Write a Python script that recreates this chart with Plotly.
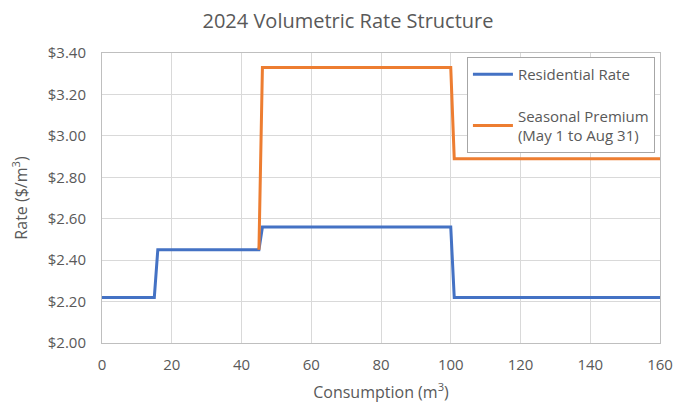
import plotly.graph_objects as go

# Data
res_x = [0, 15, 16, 45, 46, 100, 101, 160]
res_y = [2.22, 2.22, 2.45, 2.45, 2.56, 2.56, 2.22, 2.22]
sea_x = [45, 46, 100, 101, 160]
sea_y = [2.45, 3.33, 3.33, 2.89, 2.89]

FONT = "Open Sans, Liberation Sans, sans-serif"
GREY = "#595959"

fig = go.Figure()
fig.add_trace(go.Scatter(x=res_x, y=res_y, mode="lines", name="Residential Rate",
                         legendgroup="a",
                         line=dict(color="#4472C4", width=3)))
fig.add_trace(go.Scatter(x=sea_x, y=sea_y, mode="lines",
                         name="Seasonal Premium<br>(May 1 to Aug 31)",
                         legendgroup="b",
                         line=dict(color="#ED7D31", width=3)))

# page has an 8px body margin, so the figure is 680x396 placed at (8,8)
fig.update_layout(
    width=680, height=396,
    margin=dict(l=94, r=28, t=45, b=61, autoexpand=False),
    paper_bgcolor="white", plot_bgcolor="white",
    font=dict(family=FONT, color=GREY, size=15),
    title=dict(text="2024 Volumetric Rate Structure", x=0.5, xanchor="center",
               y=0.966, yanchor="middle", font=dict(size=20, color=GREY, family=FONT)),
    xaxis=dict(range=[0, 160], dtick=20, tick0=0, showgrid=True, gridcolor="#d9d9d9",
               showline=True, linecolor="#bfbfbf", mirror=True, zeroline=False,
               ticks="", ticklabelstandoff=8, automargin=False,
               tickfont=dict(size=15, color=GREY),
               title=dict(text="Consumption (m<sup>3</sup>)", font=dict(size=16, color=GREY), standoff=13)),
    yaxis=dict(range=[2.0, 3.4], dtick=0.2, tick0=2.0, tickprefix="$", tickformat=".2f",
               showgrid=True, gridcolor="#d9d9d9", showline=True, linecolor="#bfbfbf",
               mirror=True, zeroline=False, ticks="", ticklabelstandoff=12, automargin=False,
               tickfont=dict(size=15, color=GREY),
               title=dict(text="Rate ($/m<sup>3</sup>)", font=dict(size=16, color=GREY), standoff=18)),
    legend=dict(x=0.654, y=0.986, xanchor="left", yanchor="top",
                bgcolor="white", bordercolor="#a6a6a6", borderwidth=1, itemwidth=40,
                font=dict(size=15, color=GREY), tracegroupgap=19),
    showlegend=True,
)

fig.write_html("out.html")
